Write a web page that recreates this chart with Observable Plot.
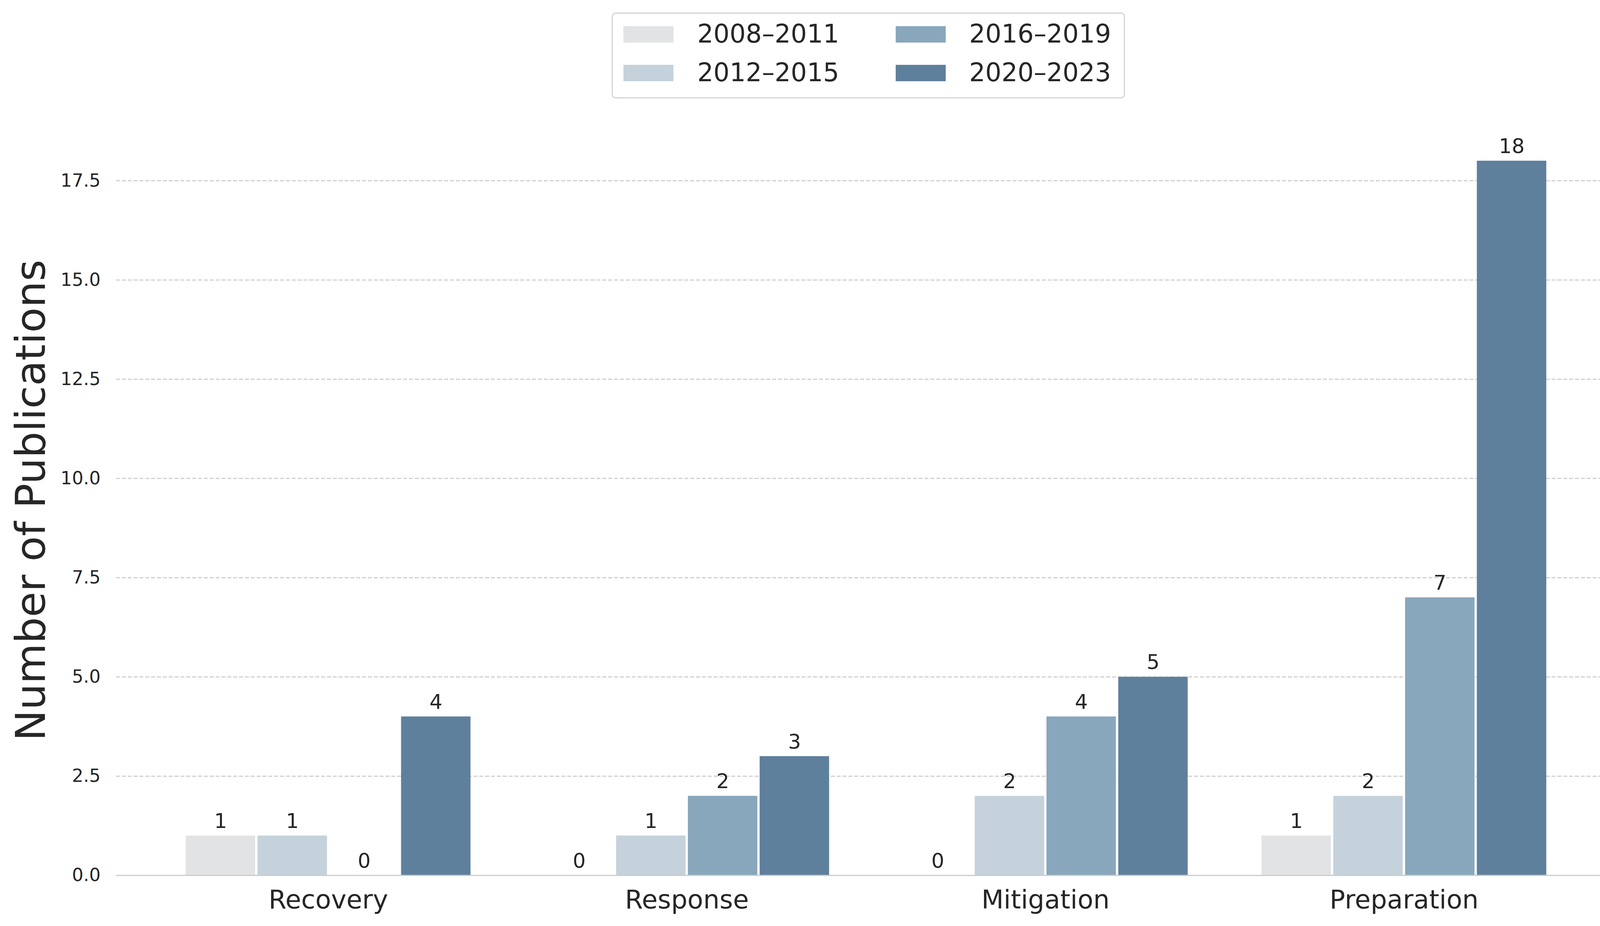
<!DOCTYPE html>
<html>
<head>
<meta charset="utf-8">
<script src="https://cdn.jsdelivr.net/npm/d3@7"></script>
<script src="https://cdn.jsdelivr.net/npm/@observablehq/plot@0.6"></script>
<style>
  html, body { margin: 0; padding: 0; background: #ffffff; overflow: hidden; }
  #root { width: 4164px; height: 2371px; position: relative; font-family: "DejaVu Sans", sans-serif; }
  #legend { position: relative; width: 4164px; height: 260px; }
  .lgbox { position: absolute; left: 1566px; top: 32px; width: 1308px; height: 214px;
           border: 3px solid #d4d4d4; border-radius: 10px; background: #fff; }
  .sw { position: absolute; width: 128px; height: 42px; }
  .lt { position: absolute; font-size: 65px; color: #262626; line-height: 1; white-space: nowrap; }
  svg { display: block; }
</style>
</head>
<body>
<div id="root">
  <div id="legend"></div>
  <div id="chart"></div>
</div>
<script>
const categories = ["Recovery", "Response", "Mitigation", "Preparation"];
const periods = ["2008–2011", "2012–2015", "2016–2019", "2020–2023"];
const values2008_2011 = [1, 0, 0, 1];
const values2012_2015 = [1, 1, 2, 2];
const values2016_2019 = [0, 2, 4, 7];
const values2020_2023 = [4, 3, 5, 18];
const periodColors = ["#e2e3e5", "#c5d2db", "#88a7bc", "#5f809c"];
const yTicks = [0, 2.5, 5, 7.5, 10, 12.5, 15, 17.5];
const yLabel = "Number of Publications";

const series = [values2008_2011, values2012_2015, values2016_2019, values2020_2023];
const rows = periods.flatMap((p, j) => categories.map((c, i) => ({category: c, period: p, value: series[j][i]})));

// Legend (HTML, above the SVG), two columns, column-major order
const legend = document.getElementById("legend");
const box = document.createElement("div");
box.className = "lgbox";
legend.appendChild(box);
const colX = [[27, 216], [724, 912]];
const rowY = [53, 152];
periods.forEach((p, k) => {
  const col = Math.floor(k / 2), row = k % 2;
  const sw = document.createElement("div");
  sw.className = "sw";
  sw.style.left = colX[col][0] + "px";
  sw.style.top = (rowY[row] - 21) + "px";
  sw.style.background = periodColors[k];
  box.appendChild(sw);
  const t = document.createElement("div");
  t.className = "lt";
  t.style.left = colX[col][1] + "px";
  t.style.top = (rowY[row] - 34) + "px";
  t.textContent = p;
  box.appendChild(t);
});

const W = 4164, H = 2111, ML = 297, MR = 27, MT = 60, MB = 130;
const xOpts = {type: "band", domain: categories, range: [ML, W - MR], paddingInner: 0.2, paddingOuter: 0.19};
// sub-band width for each period within a category group, from Plot's own band scale
const groupWidth = Plot.scale({x: xOpts}).bandwidth;
const sub = groupWidth / periods.length;

const barMarks = periods.map((p, j) =>
  Plot.barY(rows.filter(r => r.period === p), {
    x: "category", y: "value", fill: "period",
    insetLeft: j * sub + 2.5, insetRight: (periods.length - 1 - j) * sub + 2.5
  }));
const labelMarks = periods.map((p, j) =>
  Plot.text(rows.filter(r => r.period === p), {
    x: "category", y: "value", text: "value",
    dx: (j - (periods.length - 1) / 2) * sub,
    lineAnchor: "bottom", dy: -20, fontSize: 52, fill: "#262626"
  }));

const chart = Plot.plot({
  width: W,
  height: H,
  marginLeft: ML,
  marginRight: MR,
  marginTop: MT,
  marginBottom: MB,
  style: {fontFamily: "DejaVu Sans", fontSize: "46px", color: "#262626", background: "#ffffff"},
  x: {domain: categories, paddingInner: 0.2, paddingOuter: 0.19, label: null},
  y: {domain: [0, 18.9], label: null},
  color: {domain: periods, range: periodColors},
  marks: [
    Plot.gridY(yTicks, {stroke: "#c8c8c8", strokeOpacity: 1, strokeWidth: 2.5, strokeDasharray: "10,5"}),
    Plot.axisY(yTicks, {tickSize: 0, tickPadding: 40, fontSize: 46, tickFormat: d3.format(".1f"), label: null, fill: "#262626"}),
    Plot.axisX({tickSize: 0, tickPadding: 38, fontSize: 66, label: null, fill: "#262626"}),
    ...barMarks,
    Plot.ruleY([0], {stroke: "#cccccc", strokeWidth: 3}),
    ...labelMarks,
    Plot.text([yLabel], {text: d => d, frameAnchor: "left", textAnchor: "middle", dx: -216, rotate: -90, fontSize: 106, lineAnchor: "middle", fill: "#262626"})
  ]
});
document.getElementById("chart").appendChild(chart);
</script>
</body>
</html>
